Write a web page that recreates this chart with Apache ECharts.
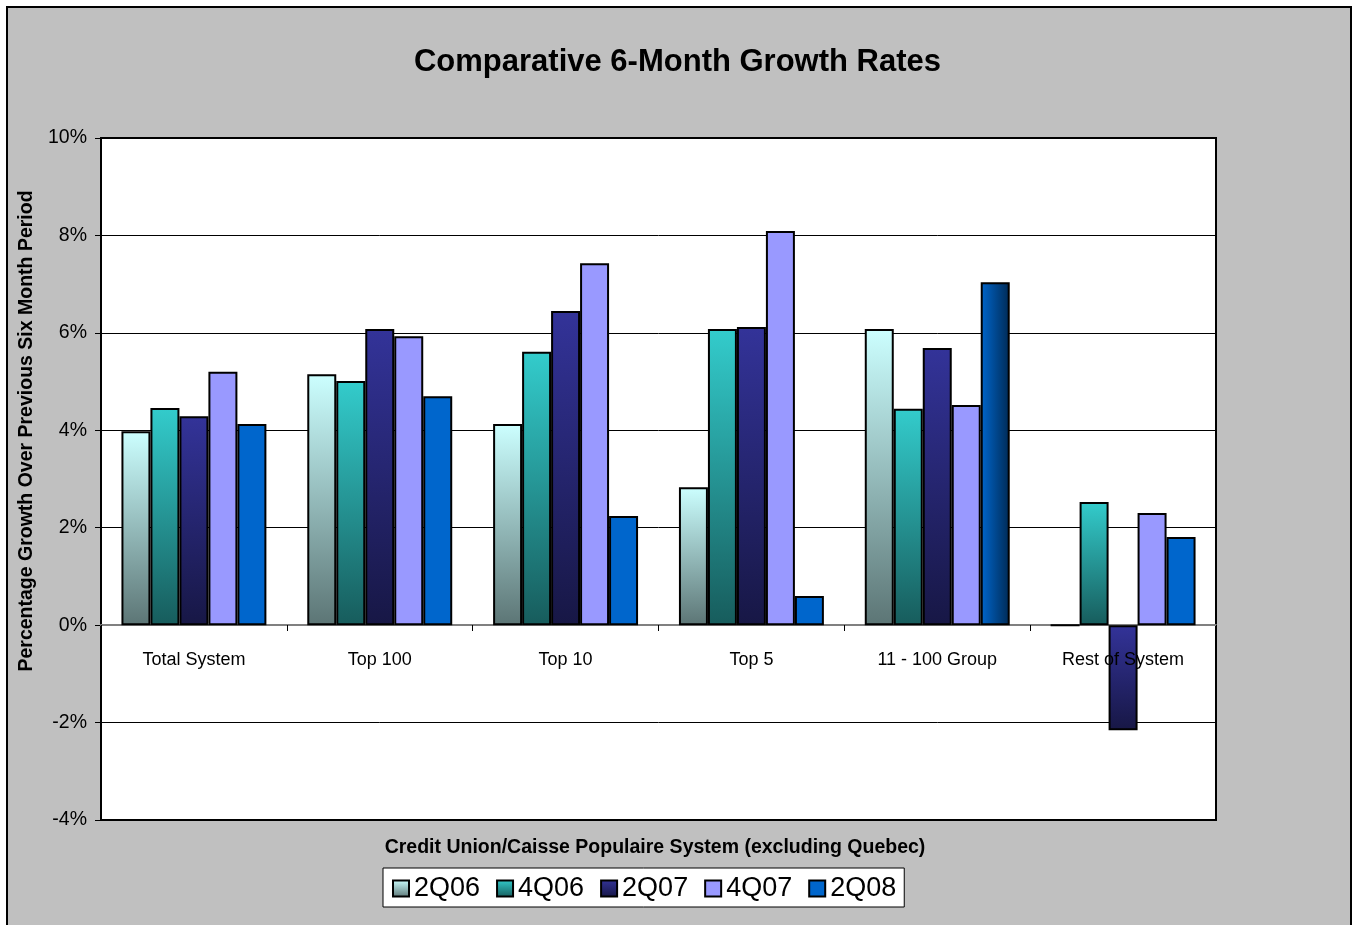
<!DOCTYPE html>
<html style="height: 100%">
<head>
<meta charset="utf-8">
<script src="https://cdn.jsdelivr.net/npm/echarts@6/dist/echarts.min.js"></script>
</head>
<body style="height: 100%; margin: 0; background: #fff">
<div id="container" style="width: 1355px; height: 925px"></div>
<script type="text/javascript">
var categories = ['Total System', 'Top 100', 'Top 10', 'Top 5', '11 - 100 Group', 'Rest of System'];
var s2Q06 = [3.98, 5.15, 4.13, 2.83, 6.08, 0.0];
var s4Q06 = [4.46, 5.01, 5.61, 6.08, 4.44, 2.53];
var s2Q07 = [4.29, 6.08, 6.45, 6.12, 5.69, -2.16];
var s4Q07 = [5.20, 5.93, 7.43, 8.09, 4.52, 2.30];
var s2Q08 = [4.13, 4.70, 2.24, 0.60, 7.04, 1.81];
var yTicks = [-4, -2, 0, 2, 4, 6, 8, 10];

var font = 'Liberation Sans, Arial, sans-serif';

function vgrad(top, bottom) {
    return new echarts.graphic.LinearGradient(0, 0, 0, 1, [
        {offset: 0, color: top}, {offset: 1, color: bottom}
    ]);
}

var dom = document.getElementById('container');
var myChart = echarts.init(dom);

// the 11 - 100 Group 2Q08 bar has a sideways shade in the original
var q08data = s2Q08.map(function (v, i) {
    if (i === 4) {
        return {value: v, itemStyle: {color: new echarts.graphic.LinearGradient(0, 0, 1, 0, [
            {offset: 0, color: '#0066cc'}, {offset: 1, color: '#002a55'}
        ])}};
    }
    return v;
});

var barStyle = {borderColor: '#000', borderWidth: 2};

var option = {
    animation: false,
    graphic: [{
        type: 'rect',
        z: -10,
        shape: {x: 7, y: 7, width: 1344, height: 940},
        style: {fill: '#c0c0c0', stroke: '#000', lineWidth: 2}
    }],
    title: [{
        text: 'Comparative 6-Month Growth Rates',
        left: 'center',
        top: 42,
        textStyle: {fontFamily: font, fontSize: 31, fontWeight: 'bold', color: '#000'}
    }, {
        text: 'Credit Union/Caisse Populaire System (excluding Quebec)',
        left: 650,
        textAlign: 'center',
        top: 833,
        textStyle: {fontFamily: font, fontSize: 19.5, fontWeight: 'bold', color: '#000'}
    }],
    legend: {
        left: 383,
        top: 868,
        padding: [7, 8, 5, 9],
        itemGap: 16,
        itemWidth: 16,
        itemHeight: 16,
        icon: 'rect',
        backgroundColor: '#fff',
        borderColor: '#000',
        borderWidth: 1,
        textStyle: {fontFamily: font, fontSize: 27, color: '#000'},
        data: ['2Q06', '4Q06', '2Q07', '4Q07', '2Q08']
    },
    grid: {
        left: 101, top: 138, right: 139, bottom: 105,
        show: true, backgroundColor: '#fff', borderColor: '#000', borderWidth: 2
    },
    // labels sit above the bars, the zero line sits below them
    xAxis: [{
        type: 'category',
        data: categories,
        position: 'bottom',
        offset: -195,
        z: 5,
        axisLine: {show: false, onZero: false},
        axisTick: {show: true, inside: false, length: 6, lineStyle: {color: '#000'}},
        axisLabel: {margin: 26, fontFamily: font, fontSize: 18, color: '#000'},
        splitLine: {show: false}
    }, {
        type: 'category',
        data: categories,
        position: 'bottom',
        offset: -195,
        z: 1,
        axisLine: {show: true, onZero: false, lineStyle: {color: '#808080', width: 2}},
        axisTick: {show: false},
        axisLabel: {show: false},
        splitLine: {show: false}
    }],
    yAxis: {
        type: 'value',
        min: yTicks[0],
        max: yTicks[yTicks.length - 1],
        interval: 2,
        name: 'Percentage Growth Over Previous Six Month Period',
        nameLocation: 'middle',
        nameGap: 57,
        nameTextStyle: {fontFamily: font, fontSize: 19.5, fontWeight: 'bold', color: '#000',
                        padding: [0, 0, 0, 96]},
        axisLine: {show: true, lineStyle: {color: '#000', width: 2}},
        axisTick: {show: true, length: 6, lineStyle: {color: '#000'}},
        axisLabel: {margin: 14, fontFamily: font, fontSize: 19.5, color: '#000', formatter: '{value}%'},
        splitLine: {lineStyle: {color: '#000', width: 1}}
    },
    series: [
        {name: '2Q06', type: 'bar', barGap: '0%', barCategoryGap: '22%', data: s2Q06,
         itemStyle: Object.assign({color: vgrad('#ccffff', '#5c7575')}, barStyle)},
        {name: '4Q06', type: 'bar', data: s4Q06,
         itemStyle: Object.assign({color: vgrad('#33cccc', '#175c5c')}, barStyle)},
        {name: '2Q07', type: 'bar', data: s2Q07,
         itemStyle: Object.assign({color: vgrad('#333399', '#171745')}, barStyle)},
        {name: '4Q07', type: 'bar', data: s4Q07,
         itemStyle: Object.assign({color: '#9999ff'}, barStyle)},
        {name: '2Q08', type: 'bar', data: q08data,
         itemStyle: Object.assign({color: '#0066cc'}, barStyle)}
    ]
};
myChart.setOption(option, true);
</script>
</body>
</html>
